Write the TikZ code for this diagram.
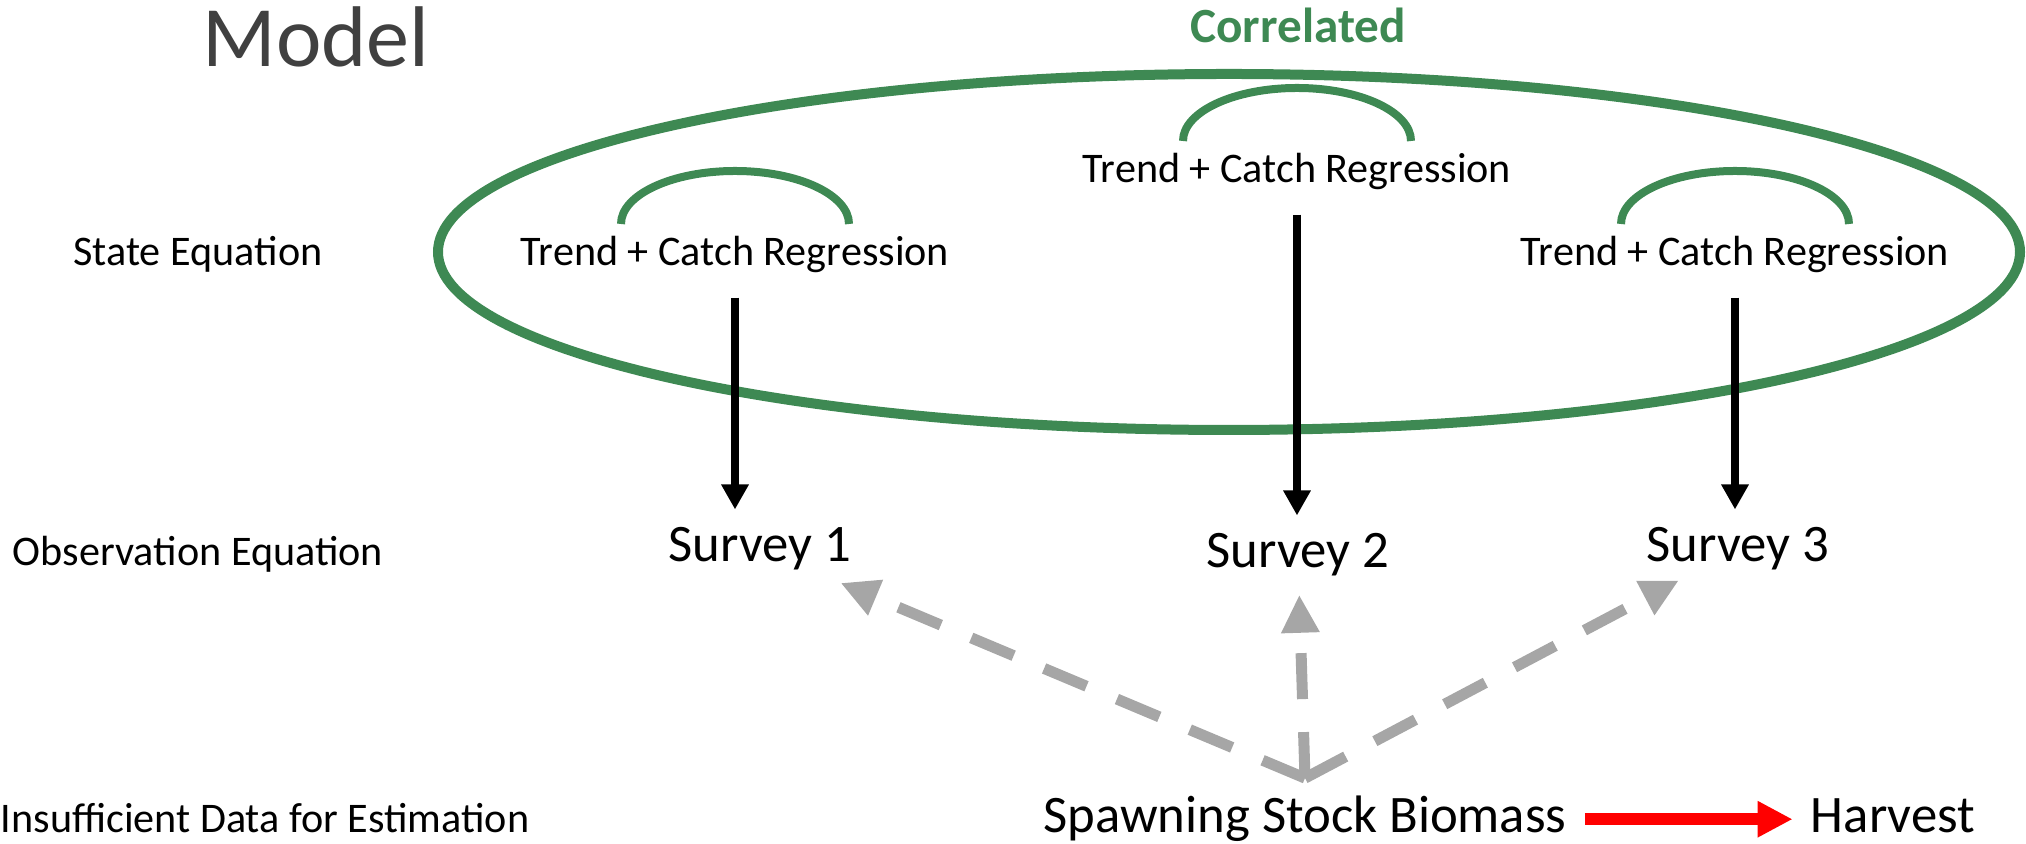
\documentclass[tikz,border=0pt]{standalone}
\usepackage{fontspec}
\setmainfont{Carlito}
\usetikzlibrary{calc,arrows.meta}
\definecolor{corrgreen}{RGB}{62,137,83}
\definecolor{linkgray}{RGB}{166,166,166}
\definecolor{titlegray}{RGB}{64,64,64}
\tikzset{
  row-text/.style={anchor=base, inner sep=0.176cm, font=\fontsize{12}{14}\selectfont},
  big-text/.style={anchor=base, inner sep=0.176cm, font=\fontsize{15}{18}\selectfont},
  title-text/.style={anchor=base, text=titlegray, font=\fontsize{24.5}{28}\selectfont},
  corr-text/.style={anchor=base, text=corrgreen, font=\fontsize{14}{16}\bfseries\selectfont},
  corr-ellipse/.style={draw=corrgreen, line width=0.1cm},
  self-arc/.style={draw=corrgreen, line width=0.08cm},
  state-arrow/.style={draw=black, line width=0.08cm, -{Triangle[width=0.26cm,length=0.25cm]}},
  link-arrow/.style={draw=linkgray, line width=0.11cm, dash pattern=on 0.46cm off 0.33cm,
    -{Triangle[width=0.36cm,length=0.38cm]}},
  harvest-arrow/.style={draw=red, line width=0.12cm, -{Triangle[width=0.34cm,length=0.35cm]}}
}

\begin{document}
\begin{tikzpicture}
  \useasboundingbox (0,0) rectangle (20.26,8.44);
  % headings
  \node[title-text] (model) at (3.16,7.77) {Model};
  \node[corr-text] (corr) at (12.98,8.01) {Correlated};
  % row labels
  \node[row-text] (stateeq) at (1.98,5.78) {State Equation};
  \node[row-text] (obseq) at (1.98,2.78) {Observation Equation};
  \node[row-text] (nodata) at (2.65,0.11) {Insufficient Data for Estimation};
  % correlation ellipse
  \draw[corr-ellipse] (12.29,5.92) ellipse [x radius=7.91, y radius=1.78];
  % state equations
  \node[row-text] (trend1) at (7.35,5.78) {Trend + Catch Regression};
  \node[row-text] (trend2) at (12.97,6.61) {Trend + Catch Regression};
  \node[row-text] (trend3) at (17.35,5.78) {Trend + Catch Regression};
  \foreach \n in {trend1,trend2,trend3}{
    \draw[self-arc] ($(\n.base)+(-1.14,0.42)$)
      arc[start angle=180, end angle=0, x radius=1.14, y radius=0.53];
  }
  % surveys
  \node[big-text] (survey1) at (7.60,2.82) {Survey 1};
  \node[big-text] (survey2) at (12.98,2.76) {Survey 2};
  \node[big-text] (survey3) at (17.38,2.82) {Survey 3};
  \foreach \i in {1,2,3}{
    \draw[state-arrow, shorten <=0.06cm] (trend\i) -- (trend\i |- survey\i.north);
  }
  % biomass and harvest
  \node[big-text] (ssb) at (13.05,0.11) {Spawning Stock Biomass};
  \node[big-text] (harvest) at (18.93,0.11) {Harvest};
  \coordinate (hub) at (ssb.north);
  \draw[link-arrow, shorten >=-0.15cm] (hub) -- (survey1);
  \draw[link-arrow] (hub) -- (survey2);
  \draw[link-arrow, shorten >=-0.18cm] (hub) -- (survey3);
  \draw[harvest-arrow] (ssb.east) -- (ssb.east -| harvest.west);
\end{tikzpicture}
\end{document}
